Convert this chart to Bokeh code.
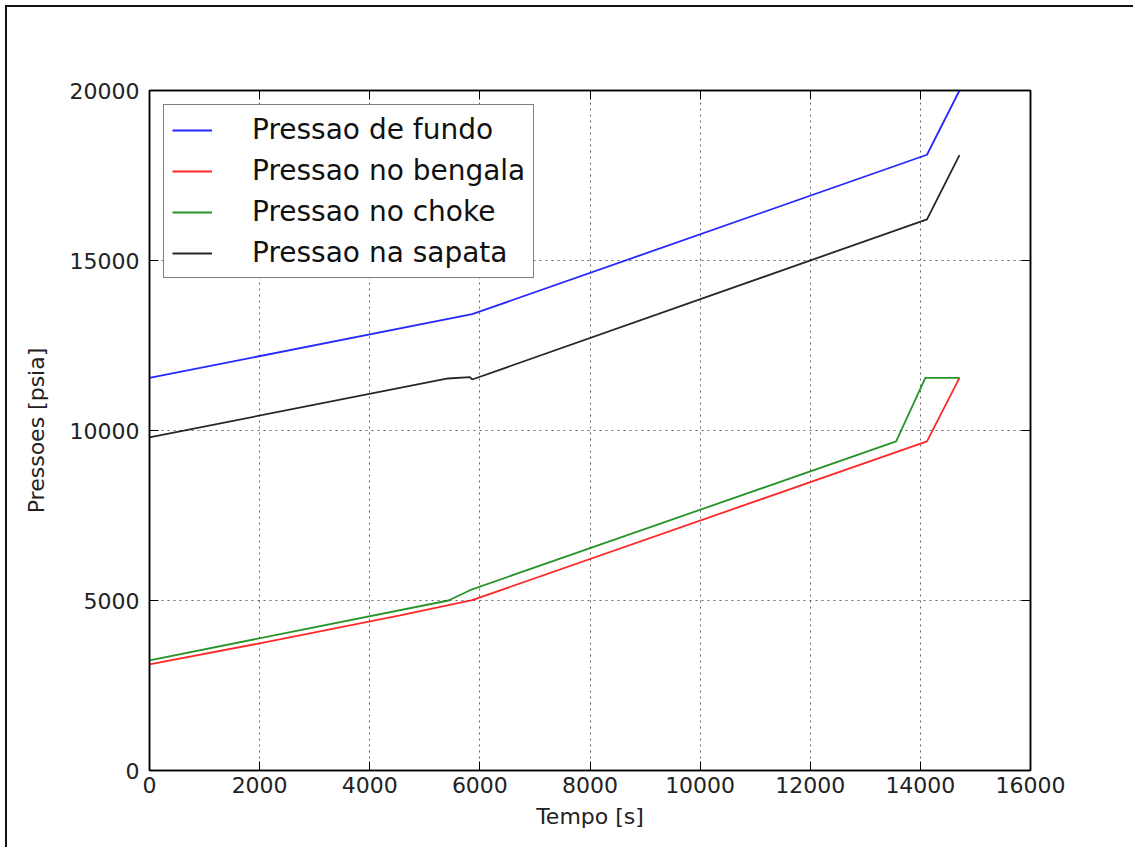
from bokeh.plotting import figure
from bokeh.models import Range1d, LinearAxis, FixedTicker, Legend, LegendItem
from bokeh.embed import file_html
from bokeh.resources import INLINE

# ---- data ----
t_fundo = [0, 5860, 14120, 14710]
p_fundo = [11550, 13420, 18110, 20000]

t_bengala = [0, 2000, 4550, 5860, 14120, 14710]
p_bengala = [3120, 3740, 4560, 5010, 9680, 11550]

t_choke = [0, 5430, 5860, 13560, 14090, 14710]
p_choke = [3240, 5000, 5330, 9680, 11550, 11550]

t_sapata = [0, 5420, 5820, 5860, 14120, 14710]
p_sapata = [9800, 11530, 11570, 11500, 16210, 18100]

x_ticks = [0, 2000, 4000, 6000, 8000, 10000, 12000, 14000, 16000]
y_ticks = [0, 5000, 10000, 15000, 20000]

labels = ["Pressao de fundo", "Pressao no bengala", "Pressao no choke", "Pressao na sapata"]
colors = ["#0000ff", "#ff0000", "#008000", "#000000"]

FONT = "DejaVu Sans"

p = figure(width=1128, height=842, output_backend="svg", toolbar_location=None,
           x_range=Range1d(0, 16000), y_range=Range1d(0, 20000),
           min_border_left=142, min_border_right=105, min_border_top=83, min_border_bottom=79)
p.styles = {"margin-left": "5px", "margin-top": "5px",
            "border-left": "2px solid #111", "border-top": "2px solid #111"}

p.outline_line_color = "black"
p.outline_line_width = 1.5
p.background_fill_color = "white"
p.border_fill_color = "white"

renderers = []
for t, v, c in [(t_fundo, p_fundo, colors[0]), (t_bengala, p_bengala, colors[1]),
                (t_choke, p_choke, colors[2]), (t_sapata, p_sapata, colors[3])]:
    r = p.line(t, v, line_color=c, line_width=1.8, line_alpha=0.85)
    renderers.append(r)

def style_axis(ax, show_labels=True):
    ax.major_tick_in = 9
    ax.major_tick_out = 0
    ax.minor_tick_in = 0
    ax.minor_tick_out = 0
    ax.axis_line_color = "black"
    ax.axis_line_width = 1.5
    ax.major_tick_line_color = "black"
    ax.major_label_text_font = FONT
    ax.major_label_text_font_size = "22px"
    ax.major_label_text_color = "#222222"
    if not show_labels:
        ax.major_label_text_font_size = "0px"
        ax.major_label_text_alpha = 0

p.xaxis.ticker = FixedTicker(ticks=x_ticks)
p.yaxis.ticker = FixedTicker(ticks=y_ticks)
style_axis(p.xaxis[0])
style_axis(p.yaxis[0])
p.xaxis.axis_label = "Tempo [s]"
p.yaxis.axis_label = "Pressoes [psia]"
for ax in (p.xaxis[0], p.yaxis[0]):
    ax.axis_label_text_font = FONT
    ax.axis_label_text_font_size = "22px"
    ax.axis_label_text_font_style = "normal"
    ax.axis_label_text_color = "#222222"
p.xaxis.major_label_standoff = 6
p.yaxis.major_label_standoff = 10
p.xaxis.axis_label_standoff = 8
p.yaxis.axis_label_standoff = 18

top_ax = LinearAxis(ticker=FixedTicker(ticks=x_ticks))
right_ax = LinearAxis(ticker=FixedTicker(ticks=y_ticks))
style_axis(top_ax, False)
style_axis(right_ax, False)
p.add_layout(top_ax, "above")
p.add_layout(right_ax, "right")

p.xgrid.ticker = FixedTicker(ticks=x_ticks)
p.ygrid.ticker = FixedTicker(ticks=y_ticks)
for g in (p.xgrid[0], p.ygrid[0]):
    g.grid_line_color = "#666666"
    g.grid_line_dash = "2 4"
    g.grid_line_width = 1

legend = Legend(items=[LegendItem(label=l, renderers=[r]) for l, r in zip(labels, renderers)],
                location="top_left")
legend.margin = 14
legend.padding = 8
legend.spacing = 8
legend.glyph_width = 40
legend.glyph_height = 30
legend.label_height = 30
legend.label_standoff = 40
legend.label_text_font = FONT
legend.label_text_font_size = "28px"
legend.label_text_color = "#111111"
legend.border_line_color = "black"
legend.border_line_width = 1.5
legend.background_fill_color = "white"
legend.background_fill_alpha = 1
p.add_layout(legend)

open("out.html", "w").write(file_html(p, INLINE))
